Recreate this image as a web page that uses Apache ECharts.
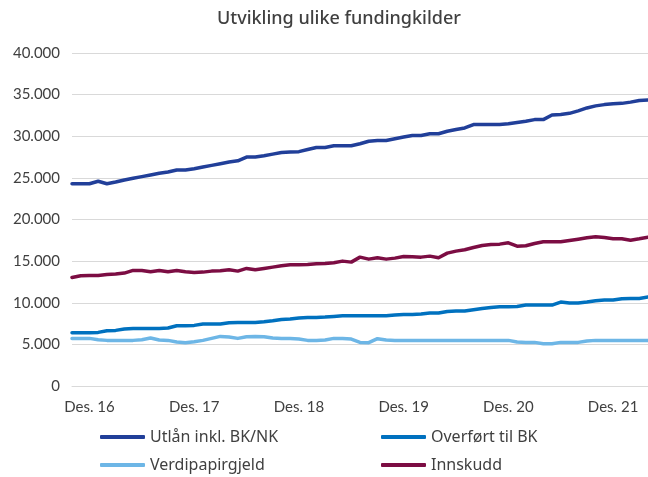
<!DOCTYPE html>
<html>
<head>
<meta charset="utf-8">
<script src="https://cdn.jsdelivr.net/npm/echarts@6/dist/echarts.min.js"></script>
<style>
  html, body { margin: 0; padding: 0; background: #fff; }
  #main { width: 648px; height: 477px; }
</style>
</head>
<body>
<div id="main"></div>
<script>
// måneder okt. 2016 - apr. 2022
const monthNames = ['Jan', 'Feb', 'Mar', 'Apr', 'Mai', 'Jun', 'Jul', 'Aug', 'Sep', 'Okt', 'Nov', 'Des']
const categories = []
for (let y = 2016, m = 9; categories.length < 67; m++) {
  if (m === 12) { m = 0; y++ }
  categories.push(monthNames[m] + '. ' + String(y).slice(2))
}

const utlan = [
  24300, 24300, 24300, 24600, 24300, 24500, 24750, 24950, 25150, 25350, 25550, 25700,
  25950, 25950, 26100, 26300, 26500, 26700, 26900, 27050, 27500, 27500, 27650, 27850,
  28050, 28100, 28150, 28400, 28650, 28650, 28850, 28850, 28850, 29100, 29400, 29500,
  29500, 29700, 29900, 30100, 30100, 30300, 30300, 30600, 30800, 31000, 31400, 31400,
  31400, 31400, 31500, 31650, 31800, 32000, 32000, 32550, 32600, 32750, 33050, 33400,
  33650, 33800, 33900, 33950, 34100, 34300, 34350
]
const overfort = [
  6400, 6400, 6400, 6440, 6640, 6680, 6840, 6920, 6920, 6920, 6920, 6960,
  7240, 7240, 7280, 7440, 7440, 7440, 7600, 7640, 7640, 7640, 7720, 7840,
  8000, 8040, 8160, 8240, 8240, 8280, 8360, 8440, 8440, 8440, 8440, 8440,
  8440, 8520, 8600, 8600, 8640, 8760, 8760, 8960, 9000, 9000, 9160, 9320,
  9440, 9520, 9520, 9560, 9720, 9720, 9720, 9720, 10080, 9960, 9960, 10080,
  10240, 10320, 10320, 10480, 10520, 10520, 10680
]
const verdipapir = [
  5720, 5720, 5720, 5560, 5480, 5480, 5480, 5480, 5560, 5760, 5520, 5480,
  5280, 5200, 5320, 5480, 5720, 5960, 5880, 5720, 5920, 5960, 5920, 5760,
  5720, 5720, 5640, 5480, 5480, 5520, 5720, 5720, 5640, 5240, 5200, 5680,
  5520, 5480, 5480, 5480, 5480, 5480, 5480, 5480, 5480, 5480, 5480, 5480,
  5480, 5480, 5480, 5280, 5240, 5240, 5080, 5080, 5240, 5240, 5240, 5400,
  5480, 5480, 5480, 5480, 5480, 5480, 5480
]
const innskudd = [
  13040, 13240, 13280, 13280, 13400, 13440, 13560, 13880, 13880, 13720, 13880, 13720,
  13880, 13720, 13640, 13680, 13800, 13840, 13960, 13800, 14120, 13960, 14120, 14280,
  14440, 14560, 14560, 14600, 14680, 14720, 14800, 15000, 14880, 15480, 15240, 15400,
  15240, 15360, 15560, 15520, 15480, 15600, 15400, 15960, 16200, 16360, 16640, 16880,
  17000, 17040, 17200, 16800, 16840, 17120, 17320, 17320, 17320, 17480, 17640, 17800,
  17920, 17840, 17680, 17680, 17520, 17680, 17880
]

const font = 'Lato, "Noto Sans", sans-serif'
const wideFont = '"Noto Sans", sans-serif'
const textColor = '#404040'

const chart = echarts.init(document.getElementById('main'))

const mkLine = (name, data, color) => ({
  name: name,
  type: 'line',
  data: data,
  showSymbol: false,
  symbol: 'none',
  lineStyle: { width: 3.5, color: color, cap: 'round', join: 'round' },
  itemStyle: { color: color },
  animation: false
})

// en legend per element, to kolonner
const mkLegend = (name, left, top) => ({
  data: [name],
  left: left,
  top: top,
  padding: 0,
  itemWidth: 45,
  itemHeight: 4,
  icon: 'roundRect',
  textStyle: { fontFamily: wideFont, fontSize: 16, color: textColor }
})

chart.setOption({
  backgroundColor: '#fff',
  title: {
    text: 'Utvikling ulike fundingkilder',
    left: 212,
    top: 5,
    textStyle: { fontFamily: wideFont, fontSize: 18, fontWeight: 500, color: textColor }
  },
  legend: [
    mkLegend('Utlån inkl. BK/NK', 100, 429),
    mkLegend('Overført til BK', 381, 429),
    mkLegend('Verdipapirgjeld', 100, 457),
    mkLegend('Innskudd', 381, 457)
  ],
  grid: { left: 72, right: 0, top: 53, bottom: 91, containLabel: false },
  xAxis: {
    type: 'category',
    data: categories,
    boundaryGap: false,
    axisLine: { lineStyle: { color: '#d9d9d9', width: 1 } },
    axisTick: { show: false },
    axisLabel: {
      interval: (idx) => idx % 12 === 2,
      margin: 14,
      fontFamily: font,
      fontSize: 15,
      color: textColor
    },
    splitLine: { show: false }
  },
  yAxis: {
    type: 'value',
    min: 0,
    max: 40000,
    interval: 5000,
    axisLine: { show: false },
    axisTick: { show: false },
    axisLabel: {
      margin: 12,
      fontFamily: font,
      fontSize: 15,
      color: textColor,
      formatter: (v) => v === 0 ? '0' : String(v).replace(/\B(?=(\d{3})+(?!\d))/g, '.')
    },
    splitLine: { lineStyle: { color: '#d9d9d9', width: 1 } }
  },
  series: [
    mkLine('Utlån inkl. BK/NK', utlan, '#213f99'),
    mkLine('Overført til BK', overfort, '#0071bf'),
    mkLine('Verdipapirgjeld', verdipapir, '#6db6e6'),
    mkLine('Innskudd', innskudd, '#7c0d43')
  ]
})
</script>
</body>
</html>
